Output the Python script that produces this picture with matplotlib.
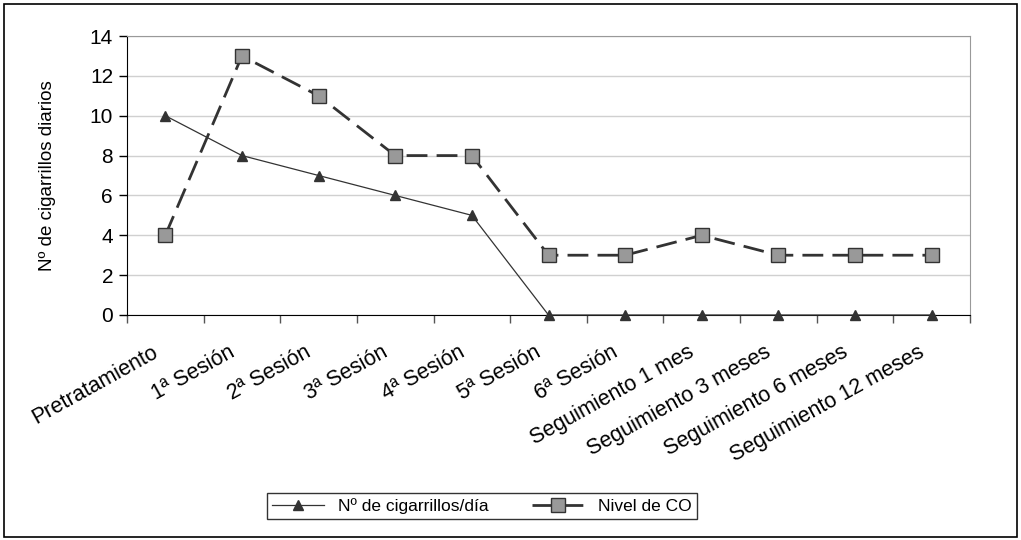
import matplotlib.pyplot as plt
import matplotlib.transforms as mtransforms
import numpy as np

plt.rcParams['font.family'] = ['Liberation Sans', 'DejaVu Sans']

categorias = ["Pretratamiento", "1ª Sesión", "2ª Sesión", "3ª Sesión", "4ª Sesión",
              "5ª Sesión", "6ª Sesión", "Seguimiento 1 mes", "Seguimiento 3 meses",
              "Seguimiento 6 meses", "Seguimiento 12 meses"]
cigarrillos = [10, 8, 7, 6, 5, 0, 0, 0, 0, 0, 0]
nivel_co = [4, 13, 11, 8, 8, 3, 3, 4, 3, 3, 3]

fig = plt.figure(figsize=(10.21, 5.40), dpi=100)
ax = fig.add_axes([127 / 1021, 1 - 315 / 540, (970 - 127) / 1021, (315 - 36) / 540])

# marco exterior
fig.patches.append(plt.Rectangle((4 / 1021, 3 / 540), 1013 / 1021, 533 / 540,
                                 transform=fig.transFigure, fill=False,
                                 edgecolor='black', linewidth=1.2))

x = np.arange(len(categorias))
ax.plot(x, cigarrillos, color='#333333', linewidth=0.9, marker='^', markersize=7,
        markerfacecolor='#333333', markeredgecolor='#333333',
        label="Nº de cigarrillos/día", zorder=3, clip_on=False)
ax.plot(x, nivel_co, color='#333333', linewidth=2.0, dashes=(7.5, 3.3), marker='s',
        markersize=10, markerfacecolor='#999999', markeredgecolor='#333333',
        markeredgewidth=1.0, label="Nivel de CO", zorder=4, clip_on=False)

ax.set_xlim(-0.5, len(categorias) - 0.5)
ax.set_ylim(0, 14)
ax.set_yticks(range(0, 15, 2))
ax.yaxis.grid(True, color='#d0d0d0', linewidth=1)
ax.set_axisbelow(True)

ax.set_xticks(x)
ax.set_xticklabels(categorias, rotation=29, ha='right', rotation_mode='anchor', fontsize=15.5)
ax.set_xticks(np.arange(-0.5, len(categorias)), minor=True)
ax.tick_params(axis='x', which='major', length=0, pad=19)
ax.tick_params(axis='x', which='minor', length=6, color='#555555', width=1)
ax.tick_params(axis='y', length=6, width=1, labelsize=15, pad=4)

# desplazar etiquetas un poco a la izquierda
offset = mtransforms.ScaledTranslation(-0.14, 0, fig.dpi_scale_trans)
for lbl in ax.get_xticklabels():
    lbl.set_transform(lbl.get_transform() + offset)

for s in ['top', 'right']:
    ax.spines[s].set_color('#999999')
ax.spines['left'].set_color('black')
ax.spines['bottom'].set_color('black')

ax.set_ylabel("Nº de cigarrillos diarios", fontsize=13.5, labelpad=24)

leg = fig.legend(loc='center', bbox_to_anchor=(482 / 1021, 1 - 506 / 540), ncol=2,
                 frameon=True, fancybox=False, edgecolor='black', fontsize=12.5,
                 handlelength=3.0, columnspacing=2.5, borderpad=0.3)
leg.get_frame().set_linewidth(1)

fig.savefig("out.png", dpi=100)
